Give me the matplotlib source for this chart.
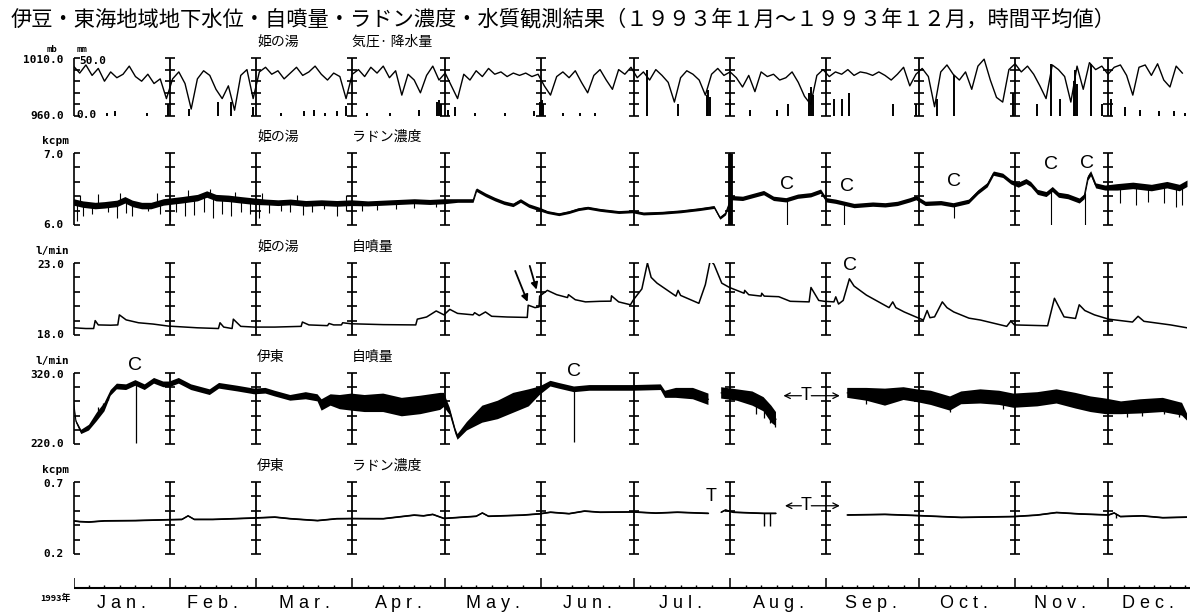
import numpy as np
import matplotlib
matplotlib.use("Agg")
import matplotlib.pyplot as plt
from matplotlib.markers import TICKRIGHT

plt.rcParams['font.family'] = ['Noto Sans CJK JP', 'DejaVu Sans']

# ---------------- data (day of year 1993, 0 = Jan 1) ----------------
title = "伊豆・東海地域地下水位・自噴量・ラドン濃度・水質観測結果（１９９３年１月～１９９３年１２月，時間平均値）"
months = ["Jan.", "Feb.", "Mar.", "Apr.", "May.", "Jun.", "Jul.", "Aug.", "Sep.", "Oct.", "Nov.", "Dec."]
month_start = [0, 31, 59, 90, 120, 151, 181, 212, 243, 273, 304, 334]
month_label_day = [15.5, 45, 74.5, 105, 135.5, 166, 196, 227.5, 257.5, 287.5, 318.5, 347]

# Himenoyu pressure (mb), every 2 days
pressure = [1003, 997, 1004, 995, 1001, 990, 998, 993, 996, 1003, 994, 990, 996, 988, 992, 975,
            992, 998, 988, 966, 992, 999, 995, 983, 975, 986, 965, 995, 1000, 975, 998, 1002,
            996, 999, 992, 997, 1002, 995, 998, 1003, 996, 991, 997, 994, 975, 996, 1000, 994,
            1002, 997, 1003, 993, 999, 978, 996, 991, 980, 995, 1003, 991, 997, 986, 975, 996,
            991, 999, 994, 1001, 996, 998, 994, 997, 995, 997, 994, 996, 986, 978, 994, 998,
            993, 999, 989, 980, 995, 1000, 991, 983, 1000, 996, 1002, 993, 998, 991, 1000, 995,
            989, 972, 993, 999, 996, 991, 978, 996, 1001, 995, 998, 993, 985, 995, 981, 998,
            994, 996, 991, 993, 998, 989, 977, 970, 995, 1000, 994, 998, 996, 1000, 995, 998,
            997, 995, 998, 995, 991, 996, 1002, 986, 996, 1001, 994, 968, 998, 1004, 996, 991,
            998, 983, 1003, 1009, 991, 976, 972, 1000, 1005, 998, 1003, 996, 986, 975, 1004, 1000,
            994, 972, 1003, 983, 1006, 1000, 1003, 996, 1002, 1004, 995, 978, 1002, 1004, 995, 1005,
            991, 985, 1003, 997]

# Himenoyu precipitation (day, mm)
precip = [(10.9, 3), (13.4, 4), (23.8, 3), (30.6, 10), (37.4, 6), (46.7, 12), (51.0, 12), (57.8, 8),
          (67.1, 3), (74.5, 4), (77.6, 5), (81.3, 3), (85.0, 4), (88.1, 9), (94.9, 3), (102.3, 3),
          (111.6, 5), (117.5, 12), (118.1, 14), (118.7, 10), (120.9, 5), (123.3, 8), (129.5, 3),
          (139.4, 3), (148.7, 4), (150.6, 12), (151.1, 14), (151.6, 10), (157.9, 3), (163.5, 3),
          (168.4, 3), (185.3, 40), (195.2, 10), (204.4, 18), (205.0, 22), (205.6, 16), (211.8, 15),
          (218.5, 5), (227.0, 5), (230.8, 10), (237.5, 20), (238.1, 25), (238.7, 18), (245.5, 15),
          (248.0, 15), (250.4, 20), (264.5, 10), (271.9, 10), (278.7, 15), (284.2, 35), (303.2, 20),
          (311.2, 10), (315.5, 45), (318.5, 15), (323.0, 30), (323.5, 40), (324.0, 28), (328.4, 45),
          (332.0, 10), (335.0, 15), (339.4, 8), (344.4, 5), (350.5, 4), (355.4, 4), (359.0, 3)]

# Himenoyu radon (day, kcpm)
hime_radon = [(0, 6.32), (3, 6.29), (7, 6.27), (10, 6.28), (14, 6.30), (16.6, 6.35), (19, 6.30), (22, 6.27),
              (25, 6.27), (29, 6.32), (31, 6.33), (35, 6.35), (40, 6.38), (43, 6.43), (46, 6.38), (50, 6.37),
              (54, 6.35), (58.4, 6.33), (62, 6.32), (66, 6.31), (70, 6.32), (75, 6.30), (80, 6.31), (85, 6.30),
              (89.7, 6.31), (95, 6.30), (100, 6.31), (105, 6.32), (110, 6.33), (115, 6.32), (119.6, 6.33),
              (124, 6.34), (129, 6.34), (130.1, 6.49), (133, 6.42), (136, 6.36), (139, 6.31), (141.9, 6.28),
              (144.3, 6.34), (147, 6.27), (150.5, 6.22), (153, 6.18), (156.7, 6.15), (160, 6.18), (163, 6.22),
              (166, 6.24), (170, 6.21), (176, 6.18), (180.4, 6.19), (184, 6.16), (190, 6.17), (196, 6.19),
              (202, 6.22), (206.8, 6.25), (208.7, 6.10), (210.5, 6.16), (212.4, 6.38), (216, 6.37),
              (222.8, 6.45), (226, 6.37), (230, 6.35), (233.8, 6.40), (238, 6.42), (241.2, 6.47), (243, 6.35),
              (246, 6.33), (249, 6.30), (252, 6.27), (258, 6.29), (262, 6.28), (266, 6.30), (270, 6.35),
              (272, 6.38), (275, 6.30), (280, 6.31), (284, 6.28), (289, 6.33), (292, 6.46), (295, 6.56),
              (297, 6.72), (300, 6.69), (302.6, 6.60), (305, 6.56), (307.5, 6.61), (309, 6.57), (311.2, 6.46),
              (314, 6.43), (316, 6.50), (318, 6.42), (321, 6.40), (324.7, 6.34), (326.3, 6.40), (327.5, 6.66),
              (328.4, 6.72), (330, 6.55), (333, 6.52), (337, 6.53), (342, 6.55), (348, 6.52), (353, 6.56),
              (357, 6.52), (359.5, 6.58)]
hime_radon_noise = [0.045, 0.045, 0.04, 0.035, 0.025, 0.02, 0.02, 0.03, 0.03, 0.03, 0.035, 0.045]
hime_radon_spikes = [(1, 6.06), (3, 6.12), (6, 6.15), (11, 6.18), (14, 6.10), (17, 6.17), (19, 6.12),
                     (24, 6.20), (28, 6.15), (31, 6.05), (33, 6.18), (36, 6.12), (39, 6.14), (42, 6.18),
                     (45, 6.10), (48, 6.15), (51, 6.12), (54, 6.18), (57, 6.15), (60, 6.10), (63, 6.16),
                     (67, 6.20), (70, 6.18), (74, 6.14), (77, 6.18), (81, 6.22), (85, 6.13), (88, 6.20),
                     (93, 6.20), (98, 6.21), (104, 6.22), (110, 6.24), (117, 6.25), (2, 6.42), (8, 6.43),
                     (15, 6.45), (27, 6.44), (37, 6.48), (44, 6.50), (52, 6.46), (61, 6.44), (72, 6.42),
                     (88, 6.42), (230.2, 6.0), (248.6, 6.0), (284.2, 6.1), (315.5, 6.0), (326.5, 6.0),
                     (338, 6.30), (343, 6.28), (347, 6.32), (352, 6.30), (356, 6.25), (358, 6.28)]
hime_radon_C = [(230.2, 6.56), (249.8, 6.54), (284.2, 6.60), (315.5, 6.84), (327.1, 6.86)]

# Himenoyu flow (day, l/min)
hime_flow = [(0, 18.5), (4, 18.45), (6.5, 18.45), (7, 19.0), (8, 18.7), (12, 18.68), (14.3, 18.7), (14.8, 19.4),
             (17, 19.05), (21, 18.85), (25.7, 18.76), (30.6, 18.62), (40, 18.5), (46.8, 18.45), (47.3, 18.85),
             (48.5, 18.55), (51.2, 18.45), (51.6, 19.1), (54, 18.6), (58.4, 18.55), (65, 18.55), (73.5, 18.6),
             (73.9, 18.9), (76, 18.7), (82, 18.65), (82.5, 18.8), (84, 18.7), (86.5, 18.7), (86.9, 18.85),
             (89.7, 18.78), (100, 18.72), (110.5, 18.7), (111, 19.1), (114, 19.25), (117.1, 19.67), (119.6, 19.4),
             (121.5, 19.78), (124, 19.5), (129, 19.4), (129.5, 19.55), (131, 19.35), (133, 19.6), (135, 19.3),
             (140, 19.25), (146.5, 19.22), (146.8, 20.07), (149, 19.9), (150.3, 19.95), (150.5, 20.7),
             (153, 21.1), (156, 20.8), (159.5, 20.6), (159.8, 20.8), (162, 20.45), (165.3, 20.3), (170, 20.34),
             (173.5, 20.35), (173.7, 20.72), (176, 20.3), (179.8, 20.1), (180.8, 20.45), (183.5, 21.2),
             (185.3, 23.0), (186.5, 22.0), (188.4, 21.6), (194.5, 20.7), (195.2, 21.1), (196, 20.75),
             (201.9, 20.2), (204, 21.5), (205.6, 23.2), (206.8, 22.9), (209.3, 21.6), (211.8, 21.3),
             (216.5, 20.9), (216.7, 21.1), (218, 20.8), (222, 20.7), (222.2, 20.9), (223, 20.7), (227.7, 20.66),
             (231.4, 20.34), (237.5, 20.3), (238.1, 21.3), (240.6, 20.4), (242.4, 20.34), (245.5, 20.3),
             (246.1, 20.65), (247, 20.15), (248.5, 20.4), (250.5, 21.9), (252, 21.4), (256, 20.77), (263.3, 19.9),
             (264.5, 20.3), (265.5, 19.9), (268.2, 19.6), (271.9, 19.26), (274.4, 19.04), (275.6, 19.7),
             (276.5, 19.2), (278, 19.26), (280.5, 20.3), (282, 19.9), (284.2, 19.6), (289.1, 19.17),
             (292.8, 19.04), (301.3, 18.6), (302.6, 18.96), (303.8, 18.7), (314.5, 18.64), (316.7, 20.55),
             (319.8, 19.26), (323.5, 19.15), (324.7, 20.1), (326.5, 19.7), (329.6, 19.4), (334.2, 19.1),
             (341.9, 18.9), (343.7, 19.3), (345.6, 18.95), (354.2, 18.7), (359.5, 18.5)]
hime_flow_arrows = [((142.6, 22.45), (146.6, 20.3)), ((147.3, 22.8), (149.5, 21.15))]
hime_flow_C = [(250.7, 22.8)]

# Ito flow (day, l/min, noise half-width); nan = no data
ito_flow = [(0, 280, 2), (0.8, 252, 2), (2.5, 237, 3), (5, 243, 4), (7.5, 258, 6), (10, 272, 6), (12, 292, 4),
            (14, 301, 4), (17, 300, 4), (20, 306, 4), (23, 300, 4), (26, 309, 4), (29, 304, 4), (31, 304, 4),
            (34, 309, 4), (38, 300, 4), (44, 293, 4), (47, 302, 4), (53, 298, 4), (58.4, 294, 4), (62, 295, 4),
            (65, 291, 4), (70, 285, 4), (75, 288, 5), (78.8, 285, 5), (80.1, 275, 8), (83, 282, 8), (86, 279, 10),
            (89.7, 279, 12), (94, 277, 12), (100, 278, 13), (106, 272, 13), (112, 275, 13), (118.4, 280, 12),
            (119.6, 282, 10), (121.5, 266, 5), (123.3, 238, 4), (124, 230, 4), (127, 245, 6), (132, 262, 12),
            (137, 268, 13), (142, 278, 14), (147, 285, 12), (150.5, 295, 6), (154, 305, 4), (156.7, 302, 4),
            (161.6, 297, 4), (166.6, 299, 4), (170, 299, 4), (180.8, 299, 4), (189.6, 300, 4), (191, 290, 5),
            (194.5, 292, 7), (200, 291, 8), (205, 283, 8), (205.5, np.nan, np.nan),
            (209.1, 292, 8), (214.2, 289, 8), (219.2, 284, 10), (222.8, 276, 10), (225.3, 262, 12),
            (226.8, 255, 10), (227.5, np.nan, np.nan),
            (249.8, 292, 7), (256, 290, 9), (262, 286, 12), (268, 291, 9), (272.3, 288, 9), (276.8, 285, 10),
            (283, 277, 10), (286.6, 285, 9), (292.8, 287, 10), (298.9, 285, 10), (303.5, 281, 10),
            (311.2, 283, 10), (317.4, 287, 10), (323.5, 281, 11), (328.4, 276, 11), (333.3, 273, 11),
            (338.2, 271, 9), (344.4, 273, 10), (351.7, 275, 10), (357.9, 269, 9), (359.5, 258, 5)]
ito_flow_spikes = [(20.3, 221), (161.5, 223), (8, 272), (9.5, 278), (11, 286), (220.5, 262), (223, 256),
                   (225, 249), (226.5, 244), (256, 276), (283, 265), (300, 270), (340, 258), (345, 260),
                   (352, 262), (357, 258)]
ito_flow_C = [(19.8, 331), (161.6, 322)]

# Ito radon (day, kcpm)
ito_radon = [(0, 0.430), (2, 0.425), (5, 0.422), (10, 0.430), (20, 0.432), (30.6, 0.438), (35, 0.440),
             (37, 0.465), (39, 0.440), (45, 0.440), (58.4, 0.450), (65, 0.456), (70, 0.445), (78.8, 0.432),
             (85, 0.445), (89.7, 0.446), (100, 0.445), (110, 0.470), (113, 0.465), (116, 0.475), (119.6, 0.447),
             (130, 0.462), (132, 0.485), (134, 0.462), (145, 0.470), (150.5, 0.479), (154, 0.490), (160, 0.480),
             (165, 0.498), (170, 0.490), (180.8, 0.492), (188, 0.484), (195, 0.490), (205, 0.482),
             (205.5, np.nan), (209.1, 0.490), (210.5, 0.505), (213, 0.490), (222.8, 0.482), (226.8, 0.482),
             (227.5, np.nan), (249.8, 0.471), (262, 0.475), (272.3, 0.467), (286.6, 0.454), (303.5, 0.460),
             (311, 0.470), (317.4, 0.488), (325, 0.478), (334.2, 0.471), (336, 0.485), (338, 0.460),
             (345, 0.465), (351.7, 0.452), (359.5, 0.456)]
ito_radon_spikes = [(222.8, 0.395), (225.0, 0.395), (336.5, 0.45)]

# ---------------- layout ----------------
W, H = 1192, 616
fig = plt.figure(figsize=(W / 100, H / 100), dpi=100)
fig.patch.set_facecolor("white")
X0, X1 = 73.5, 1187.0
DAY_END = 359.5

NUM = dict(family="DejaVu Sans Mono", fontweight="bold", fontsize=8)
CJK = dict(family=["Noto Sans CJK JP", "DejaVu Sans"], fontsize=10)
NARROW = dict(family=["Liberation Sans Narrow", "Liberation Sans", "DejaVu Sans"])


def ftxt(px, py, s, **kw):
    fig.text(px / W, 1 - py / H, s, **kw)


def make_ax(top, bot, lo, hi):
    ax = fig.add_axes([X0 / W, 1 - bot / H, (X1 - X0) / W, (bot - top) / H])
    ax.set_xlim(0, DAY_END)
    ax.set_ylim(lo, hi)
    ax.axis("off")
    levels = np.linspace(lo, hi, 6)
    ax.vlines(0, lo, hi, color="k", lw=1.2, clip_on=False)
    ax.plot(np.zeros(6), levels, ls="none", marker=TICKRIGHT, ms=4, mew=1.2, color="k", clip_on=False)
    for d in month_start[1:]:
        ax.vlines(d, lo, hi, color="k", lw=1.3, clip_on=False)
        ax.plot([d] * 6, levels, ls="none", marker="_", ms=7, mew=1.2, color="k", clip_on=False)
    return ax


panels = [
    (58, 116, 960, 1010, "1010.0", "960.0", None, "姫の湯", "気圧· 降水量"),
    (153, 225, 6.0, 7.0, "7.0", "6.0", "kcpm", "姫の湯", "ラドン濃度"),
    (263, 335, 18.0, 23.0, "23.0", "18.0", "l/min", "姫の湯", "自噴量"),
    (373, 444, 220.0, 320.0, "320.0", "220.0", "l/min", "伊東", "自噴量"),
    (482, 554, 0.2, 0.7, "0.7", "0.2", "kcpm", "伊東", "ラドン濃度"),
]
axes = []
for top, bot, lo, hi, tl, bl, unit, loc, meas in panels:
    ax = make_ax(top, bot, lo, hi)
    axes.append(ax)
    ftxt(64, top + 2, tl, ha="right", va="center", **NUM)
    ftxt(64, bot, bl, ha="right", va="center", **NUM)
    if unit:
        ftxt(69, top - 12, unit, ha="right", va="center", **NUM)
    ftxt(257, top - 16, loc, ha="left", va="center", **CJK)
    ftxt(352, top - 16, meas, ha="left", va="center", **CJK)

# title
ftxt(11, 19, title, ha="left", va="center", family=["Noto Sans CJK JP", "DejaVu Sans"], fontsize=15.3)

# ---- panel 1: pressure + precipitation
ax1 = axes[0]
p_days = 2 * np.arange(len(pressure))
ax1.plot(p_days, pressure, color="k", lw=1.0)
axp = ax1.twinx()
axp.set_ylim(0, 50)
axp.axis("off")
pd_, pm_ = np.array(precip).T
axp.vlines(pd_, 0, pm_, color="k", lw=1.4)
ftxt(57, 49, "mb", ha="right", va="center", family="DejaVu Sans Mono", fontweight="bold", fontsize=6.5)
ftxt(77, 49, "mm", ha="left", va="center", family="DejaVu Sans Mono", fontweight="bold", fontsize=6.5)
ftxt(79, 61, "50.0", ha="left", va="center", **NUM)
ftxt(76, 115, "0.0", ha="left", va="center", **NUM)

# ---- panel 2: Himenoyu radon
ax2 = axes[1]
d2, v2 = np.array(hime_radon).T
mi = np.searchsorted(month_start, d2, side="right") - 1
hw2 = np.array(hime_radon_noise)[mi]
ax2.fill_between(d2, v2 - hw2, v2 + hw2, color="k", lw=0)
ax2.plot(d2, v2, color="k", lw=0.8)
sd, sv = np.array(hime_radon_spikes).T
ax2.vlines(sd, np.interp(sd, d2, v2), sv, color="k", lw=0.8)
ax2.vlines(212, 6.0, 7.0, color="k", lw=3.5)
for d, v in hime_radon_C:
    ax2.text(d, v, "C", ha="center", va="center", fontsize=14, **NARROW)

# ---- panel 3: Himenoyu flow
ax3 = axes[2]
d3, v3 = np.array(hime_flow).T
ax3.plot(d3, v3, color="k", lw=1.1)
for (tx, ty), (hx, hy) in hime_flow_arrows:
    ax3.annotate("", xy=(hx, hy), xytext=(tx, ty),
                 arrowprops=dict(arrowstyle="-|>", color="k", lw=1.3, mutation_scale=10, shrinkA=0, shrinkB=0))
for d, v in hime_flow_C:
    ax3.text(d, v, "C", ha="center", va="center", fontsize=14, **NARROW)

# ---- panel 4: Ito flow
ax4 = axes[3]
d4, v4, h4 = np.array(ito_flow).T
ax4.fill_between(d4, v4 - h4, v4 + h4, color="k", lw=0)
ax4.plot(d4, v4, color="k", lw=0.8)
sd, sv = np.array(ito_flow_spikes).T
ax4.vlines(sd, np.interp(sd, d4[~np.isnan(v4)], v4[~np.isnan(v4)]), sv, color="k", lw=0.9)
for d, v in ito_flow_C:
    ax4.text(d, v, "C", ha="center", va="center", fontsize=14, clip_on=False, **NARROW)


def t_marker(ax, y, left, center, right):
    ax.text(center, y, "T", ha="center", va="center", fontsize=13, **NARROW)
    ax.annotate("", xy=(left, y), xytext=(center - 1.6, y),
                arrowprops=dict(arrowstyle="->", color="k", lw=0.9, shrinkA=0, shrinkB=0))
    ax.annotate("", xy=(right, y), xytext=(center + 1.6, y),
                arrowprops=dict(arrowstyle="->", color="k", lw=0.9, shrinkA=0, shrinkB=0))


t_marker(ax4, 288, 229.2, 236.6, 247.4)

# ---- panel 5: Ito radon
ax5 = axes[4]
d5, v5 = np.array(ito_radon).T
ax5.fill_between(d5, v5 - 0.006, v5 + 0.006, color="k", lw=0)
ax5.plot(d5, v5, color="k", lw=0.9)
sd, sv = np.array(ito_radon_spikes).T
ax5.vlines(sd, np.interp(sd, d5[~np.isnan(v5)], v5[~np.isnan(v5)]), sv, color="k", lw=1.0)
ax5.text(205.9, 0.6, "T", ha="center", va="center", fontsize=13, **NARROW)
t_marker(ax5, 0.535, 229.7, 236.6, 247.4)

# ---- bottom time axis
ax6 = fig.add_axes([X0 / W, 0, (X1 - X0) / W, 46 / H])
ax6.set_xlim(0, DAY_END)
ax6.set_ylim(616, 570)
ax6.axis("off")
ax6.hlines(588, 0, DAY_END + 1, color="k", lw=1.5, clip_on=False)
ax6.vlines(month_start, 578, 588, color="k", lw=1.1)
small = [m + k for m in month_start for k in (5, 10, 15, 20, 25) if m + k < DAY_END]
ax6.vlines(small, 584.5, 588, color="k", lw=1.0)
for d, m in zip(month_label_day, months):
    ax6.text(d, 604, " ".join(m), ha="center", va="center", fontsize=13, **NARROW)
ftxt(71, 598, "1993年", ha="right", va="center", family=["Noto Sans CJK JP", "DejaVu Sans"],
     fontsize=6.5, fontweight="bold")

fig.savefig("out.png", dpi=100, facecolor="white")
